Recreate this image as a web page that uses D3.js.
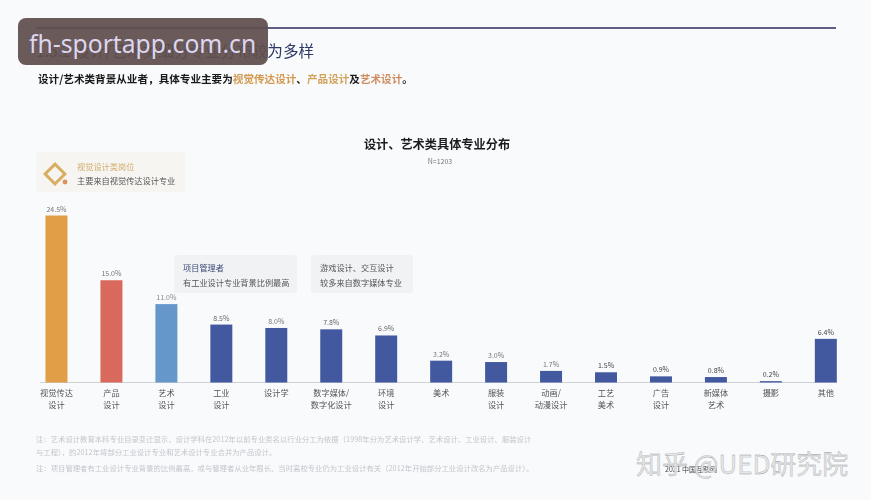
<!DOCTYPE html>
<html><head><meta charset="utf-8">
<script src="https://cdn.jsdelivr.net/npm/d3@7"></script>
<style>html,body{margin:0;padding:0;background:#f9fafc;overflow:hidden}svg{display:block}text{font-family:"Noto Sans CJK SC","Noto Sans",sans-serif}</style>
</head><body><svg id="c" width="871" height="500"></svg>
<script>
const categories=["视觉传达|设计","产品|设计","艺术|设计","工业|设计","设计学","数字媒体/|数字化设计","环境|设计","美术","服装|设计","动画/|动漫设计","工艺|美术","广告|设计","新媒体|艺术","摄影","其他"];
const values=[24.5,15.0,11.5,8.5,8.0,7.8,6.9,3.2,3.0,1.7,1.5,0.9,0.8,0.2,6.4];
const valueLabels=["24.5%","15.0%","11.0%","8.5%","8.0%","7.8%","6.9%","3.2%","3.0%","1.7%","1.5%","0.9%","0.8%","0.2%","6.4%"];
const barColors=["#e29d47","#d9695c","#6597cb","#43599f","#43599f","#43599f","#43599f","#43599f","#43599f","#43599f","#43599f","#43599f","#43599f","#43599f","#43599f"];
const labelColors=["#777","#777","#888","#666","#777","#666","#666","#777","#777","#777","#444","#444","#444","#444","#444"];
const titleText="设计、艺术类具体专业分布";
const nText="N=1203";
const headingText="1.5.2 设计/艺术类细分专业分布较为多样";
const subParts=[["设计/艺术类背景从业者，具体专业主要为","#1a1a1a"],["视觉传达设计","#d3994f"],["、","#1a1a1a"],["产品设计","#d3a35c"],["及","#1a1a1a"],["艺术设计","#cf8d5f"],["。","#1a1a1a"]];
const notes=["注：艺术设计教育本科专业目录变迁显示，设计学科在2012年以前专业类名以行业分工为依据（1998年分为艺术设计学、艺术设计、工业设计、服装设计","与工程），的2012年将部分工业设计专业和艺术设计专业合并为产品设计。","注：项目管理者有工业设计专业背景的比例最高，或与管理者从业年限长、当时高校专业仍为工业设计有关（2012年开始部分工业设计改名为产品设计）。"];

const svg=d3.select("#c");
const x=d3.scaleBand().domain(categories).range([29,853.3]).paddingInner(0.6).paddingOuter(0.3);
const y=d3.scaleLinear().domain([0,24.5]).range([382.5,215.5]);
const soft=svg.append("g").style("filter","blur(0.35px)");

soft.append("line").attr("x1",36).attr("x2",836).attr("y1",28).attr("y2",28).attr("stroke","#2b2a63").attr("stroke-width",1.5);
soft.append("text").attr("x",36).attr("y",57).attr("font-size",15.6).attr("fill","#2d3a66").text(headingText);
const sub=soft.append("text").attr("x",38).attr("y",83).attr("font-size",10.6).attr("font-weight",600);
subParts.forEach(p=>sub.append("tspan").attr("fill",p[1]).text(p[0]));

soft.append("text").attr("x",437).attr("y",149).attr("text-anchor","middle").attr("font-size",12.2).attr("font-weight",600).attr("fill","#1c1c1c").text(titleText);
soft.append("text").attr("x",440).attr("y",164).attr("text-anchor","middle").attr("font-size",7).attr("fill","#777").text(nText);

// callouts
const boxes=[[36,152,149,40,"#f6f5f2"],[174,255,123,38,"#f1f2f4"],[311,255,102,38,"#f1f2f4"]];
soft.selectAll("rect.box").data(boxes).join("rect").attr("class","box").attr("x",d=>d[0]).attr("y",d=>d[1]).attr("width",d=>d[2]).attr("height",d=>d[3]).attr("rx",3).attr("fill",d=>d[4]);
const icon=soft.append("g");
icon.append("rect").attr("x",48).attr("y",167).attr("width",14).attr("height",14).attr("transform","rotate(45 55 174)").attr("fill","none").attr("stroke","#d9ad62").attr("stroke-width",3);
icon.append("circle").attr("cx",65).attr("cy",182).attr("r",2.4).attr("fill","#dd9058");
const notesText=[[77,170,"视觉设计类岗位","#d3ac69"],[77,184,"主要来自视觉传达设计专业","#555"],[183,271,"项目管理者","#3d4a78"],[183,286,"有工业设计专业背景比例最高","#555"],[320,271,"游戏设计、交互设计","#555"],[320,286,"较多来自数字媒体专业","#555"]];
soft.selectAll("text.cn").data(notesText).join("text").attr("class","cn").attr("x",d=>d[0]).attr("y",d=>d[1]).attr("font-size",8.2).attr("fill",d=>d[3]).text(d=>d[2]);

// baseline and bars
soft.append("line").attr("x1",40).attr("x2",837).attr("y1",382.5).attr("y2",382.5).attr("stroke","#cfd1d6");
soft.selectAll("rect.bar").data(values).join("rect").attr("class","bar")
 .attr("x",(d,i)=>x(categories[i])).attr("width",x.bandwidth())
 .attr("y",d=>y(d)).attr("height",d=>y(0)-y(d)).attr("fill",(d,i)=>barColors[i]);
soft.selectAll("text.val").data(values).join("text").attr("class","val")
 .attr("x",(d,i)=>x(categories[i])+x.bandwidth()/2).attr("y",d=>y(d)-4)
 .attr("text-anchor","middle").attr("font-size",7).attr("fill",(d,i)=>labelColors[i]).text((d,i)=>valueLabels[i]);
const cat=soft.selectAll("text.cat").data(categories).join("text").attr("class","cat")
 .attr("text-anchor","middle").attr("font-size",8.2).attr("fill","#555");
cat.each(function(d){const t=d3.select(this);d.split("|").forEach((s,j)=>t.append("tspan").attr("x",x(d)+x.bandwidth()/2).attr("y",396+j*12).text(s));});

// footnotes
soft.selectAll("text.note").data(notes).join("text").attr("class","note")
 .attr("x",36).attr("y",(d,i)=>[442,455,471][i]).attr("font-size",7.35).attr("fill","#c3c6cb").text(d=>d);

// lower-right marks
soft.append("text").attr("x",665).attr("y",472).attr("font-size",7).attr("fill","#444").text("2021 中国互联网");
svg.append("text").attr("x",636).attr("y",474).attr("font-size",26).attr("fill","#e4e6e9").attr("stroke","#9a9a9a").attr("stroke-width",0.3).text("知乎 @UED研究院");

// site stamp
svg.append("rect").attr("x",18).attr("y",18).attr("width",250).attr("height",47).attr("rx",8).attr("fill","#5f4e4e").attr("opacity",0.93);
svg.append("text").attr("x",29).attr("y",53).attr("font-size",24.7).attr("fill","#ddd6ee").style("font-family","'Noto Sans',sans-serif").text("fh-sportapp.com.cn");
</script></body></html>
